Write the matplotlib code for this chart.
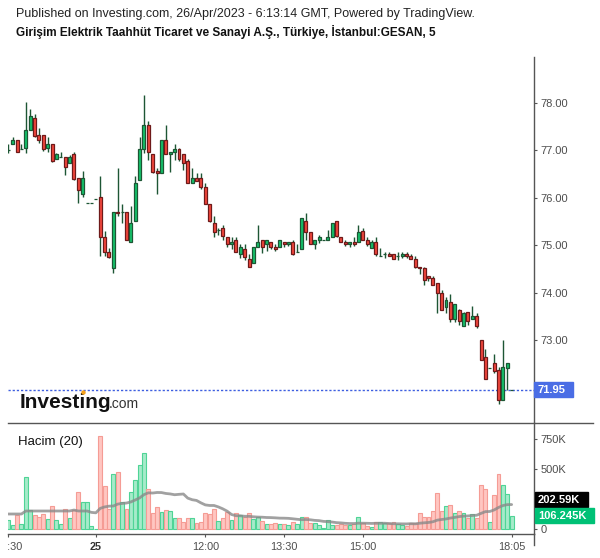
import matplotlib
matplotlib.use("Agg")
import matplotlib.pyplot as plt
import numpy as np
import pandas as pd
from matplotlib.patches import Rectangle
from matplotlib.lines import Line2D
from matplotlib.transforms import Bbox, TransformedBbox

plt.rcParams['font.family'] = ['Liberation Sans', 'DejaVu Sans']

# ---------------- data ----------------
opens = [77.00, 77.13, 77.21, 77.03, 77.06, 77.42, 77.68, 77.32, 77.32, 77.06,
         77.13, 76.81, 76.87, 76.87, 76.73, 76.92, 76.41, 76.07, 75.90, 75.90,
         75.97, 76.01, 75.17, 74.85, 74.51, 75.71, 75.71, 75.71, 75.06, 75.50,
         76.37, 77.02, 77.53, 76.92, 76.56, 76.52, 77.21, 76.92, 76.96, 77.03,
         76.92, 76.78, 76.31, 76.41, 76.41, 76.22, 75.86, 75.46, 75.32, 75.36,
         75.17, 75.02, 75.10, 74.81, 74.91, 74.70, 74.62, 74.96, 75.10, 75.02,
         75.06, 74.96, 74.96, 75.06, 75.02, 75.06, 74.85, 74.91, 75.50, 75.27,
         75.02, 75.10, 75.10, 75.10, 75.17, 75.50, 75.17, 75.06, 75.02, 75.06,
         75.06, 75.31, 75.10, 74.95, 75.06, 74.77, 74.81, 74.81, 74.81, 74.77,
         74.77, 74.81, 74.77, 74.70, 74.55, 74.51, 74.36, 74.30, 74.21, 74.00,
         73.70, 73.81, 73.45, 73.64, 73.30, 73.60, 73.45, 73.50, 72.99, 72.65,
         72.40, 72.51, 72.36, 71.74, 72.40, 71.95]
highs = [77.14, 77.28, 77.21, 77.13, 78.02, 77.87, 77.77, 77.47, 77.32, 77.28,
         77.13, 76.95, 76.96, 76.87, 76.91, 76.97, 76.41, 76.57, 75.90, 75.90,
         75.97, 76.47, 75.29, 74.95, 75.71, 76.63, 75.86, 75.71, 75.83, 76.47,
         77.28, 78.17, 77.62, 76.92, 76.62, 77.21, 77.54, 76.96, 77.13, 77.05,
         76.92, 76.81, 76.63, 76.52, 76.52, 76.31, 75.86, 75.62, 75.36, 75.42,
         75.17, 75.17, 75.17, 75.03, 75.02, 74.81, 74.96, 75.43, 75.10, 75.10,
         75.06, 75.02, 75.10, 75.06, 75.06, 75.11, 75.02, 75.57, 75.67, 75.27,
         75.10, 75.22, 75.10, 75.32, 75.46, 75.50, 75.17, 75.10, 75.06, 75.17,
         75.42, 75.36, 75.17, 75.10, 75.17, 74.95, 74.85, 74.85, 74.81, 74.85,
         74.85, 74.85, 74.81, 74.77, 74.55, 74.55, 74.36, 74.36, 74.21, 74.05,
         73.90, 73.96, 73.75, 73.66, 73.60, 73.60, 73.71, 73.56, 72.99, 72.80,
         72.40, 72.70, 72.44, 72.99, 72.51, 71.95]
lows = [76.95, 77.13, 76.96, 77.02, 76.94, 77.42, 77.29, 77.15, 76.99, 76.97,
        76.76, 76.81, 76.87, 76.49, 76.73, 76.38, 75.88, 76.02, 75.90, 75.90,
        75.97, 74.78, 74.78, 74.72, 74.42, 75.62, 75.47, 75.10, 75.06, 75.50,
        76.37, 76.94, 76.79, 76.53, 76.09, 76.52, 76.92, 76.54, 76.79, 76.78,
        76.58, 76.31, 76.31, 76.36, 76.18, 75.86, 75.48, 75.18, 75.22, 75.12,
        74.97, 74.93, 74.85, 74.72, 74.69, 74.55, 74.62, 74.96, 74.83, 74.87,
        74.93, 74.87, 74.96, 74.97, 74.98, 74.79, 74.85, 74.91, 75.12, 75.02,
        74.93, 75.04, 75.10, 75.10, 75.17, 75.18, 75.06, 74.98, 74.97, 74.98,
        75.06, 75.10, 74.98, 74.95, 74.78, 74.77, 74.72, 74.77, 74.70, 74.68,
        74.72, 74.72, 74.70, 74.51, 74.39, 74.17, 74.24, 74.15, 73.58, 73.64,
        73.58, 73.37, 73.37, 73.32, 73.30, 73.32, 73.45, 73.26, 72.58, 72.18,
        72.40, 72.31, 71.65, 71.74, 71.95, 71.95]
closes = [77.00, 77.21, 76.96, 77.03, 77.42, 77.73, 77.31, 77.21, 77.02, 77.13,
          76.77, 76.92, 76.87, 76.66, 76.87, 76.40, 76.16, 76.41, 75.90, 75.90,
          75.97, 75.17, 74.85, 74.76, 75.71, 75.67, 75.71, 75.10, 75.46, 76.31,
          77.02, 77.53, 76.96, 76.55, 76.52, 77.21, 76.92, 76.96, 77.02, 76.81,
          76.73, 76.31, 76.41, 76.36, 76.22, 75.86, 75.50, 75.27, 75.32, 75.20,
          75.02, 75.06, 74.85, 74.96, 74.76, 74.55, 74.96, 75.06, 74.96, 75.10,
          74.96, 74.91, 75.10, 75.02, 75.06, 74.81, 74.85, 75.57, 75.27, 75.02,
          75.10, 75.17, 75.10, 75.17, 75.46, 75.20, 75.06, 75.02, 75.06, 75.02,
          75.27, 75.10, 75.02, 75.06, 74.81, 74.77, 74.81, 74.77, 74.70, 74.77,
          74.81, 74.77, 74.70, 74.55, 74.51, 74.26, 74.30, 74.15, 74.00, 73.64,
          73.85, 73.45, 73.75, 73.41, 73.56, 73.41, 73.50, 73.30, 72.58, 72.18,
          72.40, 72.35, 71.74, 72.44, 72.51, 71.95]
# volume in thousands
volumes_k = [75, 33, 114, 42, 430, 156, 114, 100, 125, 81,
             189, 75, 39, 164, 92, 158, 306, 228, 222, 25,
             3, 775, 356, 167, 458, 475, 222, 167, 308, 408,
             533, 630, 331, 133, 181, 144, 156, 150, 89, 92,
             58, 89, 89, 47, 58, 133, 125, 164, 67, 92,
             144, 75, 133, 114, 103, 133, 83, 100, 67, 42,
             42, 50, 39, 39, 31, 58, 42, 97, 97, 47,
             47, 31, 8, 75, 31, 31, 42, 31, 31, 42,
             97, 50, 25, 14, 58, 58, 50, 50, 58, 42,
             31, 25, 47, 50, 133, 97, 97, 150, 300, 150,
             192, 197, 133, 150, 133, 92, 125, 92, 367, 333,
             58, 283, 458, 367, 292, 106.245]
# MA(20) values for the first 19 bars (history not shown)
ma_head_k = [125, 125, 125, 125, 150, 150, 150, 150, 150, 150,
             150, 150, 150, 150, 150, 158, 150, 150, 150]
tick_idx = [20, 45, 63, 81, 115]
tick_labels = ["25", "12:00", "13:30", "15:00", "18:05"]
first_tick_label = "17:30"
price_ticks = [73, 74, 75, 76, 77, 78]
vol_ticks = [0, 250, 500, 750]
vol_tick_labels = ["0", "", "500K", "750K"]   # 250K is hidden behind the MA label
last_price = 71.95
last_vol_label = "106.245K"
ma_last_label = "202.59K"

# ---------------- layout ----------------
W, H = 600, 558
fig = plt.figure(figsize=(6, 5.58), dpi=100)
fig.patch.set_facecolor('white')


def fx(px):
    return px / W


def fy(py):
    return 1 - py / H


LEFT, RIGHT = 7.5, 534
ax = fig.add_axes([fx(LEFT), fy(423), fx(RIGHT) - fx(LEFT), fy(57) - fy(423)])
axv = fig.add_axes([fx(LEFT), fy(534), fx(RIGHT) - fx(LEFT), fy(423) - fy(534)])

n = len(opens)
x = np.arange(n)
o = np.array(opens); c = np.array(closes); h = np.array(highs); l = np.array(lows)
up = c >= o

spacing = 4.377
x0px = 8.3
xlim = ((LEFT - x0px) / spacing, (RIGHT - x0px) / spacing)

# ---------------- price pane ----------------
wick_col = '#1d5634'
ax.vlines(x, l, h, color=wick_col, lw=1.0, zorder=2)
body_fc = np.where(up, '#14c46c', '#f4473d')
body_ec = np.where(up, '#1d5634', '#6e1a1a')
ax.bar(x, np.abs(c - o), bottom=np.minimum(o, c), width=0.68,
       color=body_fc, edgecolor=body_ec, linewidth=0.9, zorder=3)
ax.axhline(last_price, color='#3e5fe0', lw=1.0, ls=(0, (1.6, 1.4)), zorder=1)

ax.set_xlim(*xlim)
ax.set_ylim(78 - (423 - 103) / 47.4, 78 + (103 - 57) / 47.4)
for s in ['left', 'top', 'bottom']:
    ax.spines[s].set_visible(False)
ax.spines['right'].set_color('#555555')
ax.spines['right'].set_linewidth(1.0)
ax.set_xticks([])
ax.yaxis.tick_right()
ax.set_yticks(price_ticks)
ax.set_yticklabels([f"{v:.2f}" for v in price_ticks])
ax.tick_params(axis='y', length=2.2, width=0.8, color='#555555', pad=2.6,
               labelsize=8, labelcolor='#4d4d4d')

# ---------------- volume pane ----------------
v = np.array(volumes_k, dtype=float)
vol_fc = np.where(up, '#a6ebca', '#ffc6c1')
vol_ec = np.where(up, '#4fd496', '#f59c95')
axv.bar(x, v, width=0.9, color=vol_fc, edgecolor=vol_ec, linewidth=0.8, zorder=2)
ma = pd.Series(v).rolling(20).mean().to_numpy()
ma[:len(ma_head_k)] = ma_head_k
axv.plot(x, ma, color='#8a8a8a', lw=2.0, alpha=0.8, zorder=3, solid_capstyle='round')

axv.set_xlim(*xlim)
axv.set_ylim((529 - 534) / 30 * 250, (529 - 423) / 30 * 250)
for s in ['left', 'top']:
    axv.spines[s].set_visible(False)
for s in ['right', 'bottom']:
    axv.spines[s].set_color('#555555')
    axv.spines[s].set_linewidth(1.0)
axv.yaxis.tick_right()
axv.set_yticks(vol_ticks)
axv.set_yticklabels(vol_tick_labels)
axv.tick_params(axis='y', length=2.2, width=0.8, color='#555555', pad=2.6,
                labelsize=8, labelcolor='#4d4d4d')
axv.set_xticks([0] + tick_idx)
axv.set_xticklabels([""] + tick_labels)
axv.tick_params(axis='x', length=2.5, width=0.8, color='#555555', pad=3.2,
                labelsize=7.8, labelcolor='#4d4d4d')
for lab in axv.get_xticklabels():
    if lab.get_text() == "25":
        lab.set_fontweight('bold')
        lab.set_color('#333333')

# first label, partially hidden at the left edge as in the reference
t0 = axv.text(0, -(542 - 534) / 111, first_tick_label, transform=axv.get_xaxis_transform(),
              ha='center', va='top', fontsize=7.8, color='#4d4d4d', clip_on=True)
t0.set_clip_box(TransformedBbox(Bbox([[fx(LEFT), 0], [1, 1]]), fig.transFigure))

# ---------------- decorations ----------------
fig.add_artist(Line2D([fx(LEFT), fx(593)], [fy(423), fy(423)], color='#555555',
                      lw=1.0, transform=fig.transFigure))
fig.add_artist(Line2D([fx(RIGHT), fx(RIGHT)], [fy(534), fy(545)], color='#555555',
                      lw=1.0, transform=fig.transFigure))


def box(x0, y0, x1, y1, color, text, tcol='white'):
    fig.add_artist(Rectangle((fx(x0), fy(y1)), fx(x1) - fx(x0), fy(y0) - fy(y1),
                             transform=fig.transFigure, color=color, zorder=10))
    fig.text(fx(x0 + 3), fy((y0 + y1) / 2 + 0.5), text, color=tcol, fontsize=8,
             fontweight='bold', ha='left', va='center', zorder=11)


box(534, 382, 573, 397, '#4a6de5', f"{last_price:.2f}")
box(535, 492, 588, 507, '#000000', ma_last_label)
box(535, 508, 594, 523, '#00c176', last_vol_label)

fig.text(fx(16), fy(17.5),
         "Published on Investing.com, 26/Apr/2023 - 6:13:14 GMT, Powered by TradingView.",
         fontsize=9, va='baseline', ha='left', color='#222222')
fig.text(fx(16), fy(36),
         "Girişim Elektrik Taahhüt Ticaret ve Sanayi A.Ş., Türkiye, İstanbul:GESAN, 5",
         fontsize=8.5, fontweight='bold', va='baseline', ha='left', color='#111111')

fig.text(fx(18), fy(445), "Hacim (20)", fontsize=9.5, va='baseline', ha='left',
         color='#111111')

fig.text(fx(20), fy(408), "Investing", fontsize=15, fontweight='bold',
         va='baseline', ha='left', color='#111111')
fig.text(fx(109), fy(408), ".com", fontsize=10, va='baseline', ha='left',
         color='#333333')
fig.add_artist(Line2D([fx(83)], [fy(392)], marker='o', ms=3.2, color='#f5a11a',
                      mec='none', transform=fig.transFigure, zorder=12))

fig.savefig("out.png", dpi=100, facecolor='white')
